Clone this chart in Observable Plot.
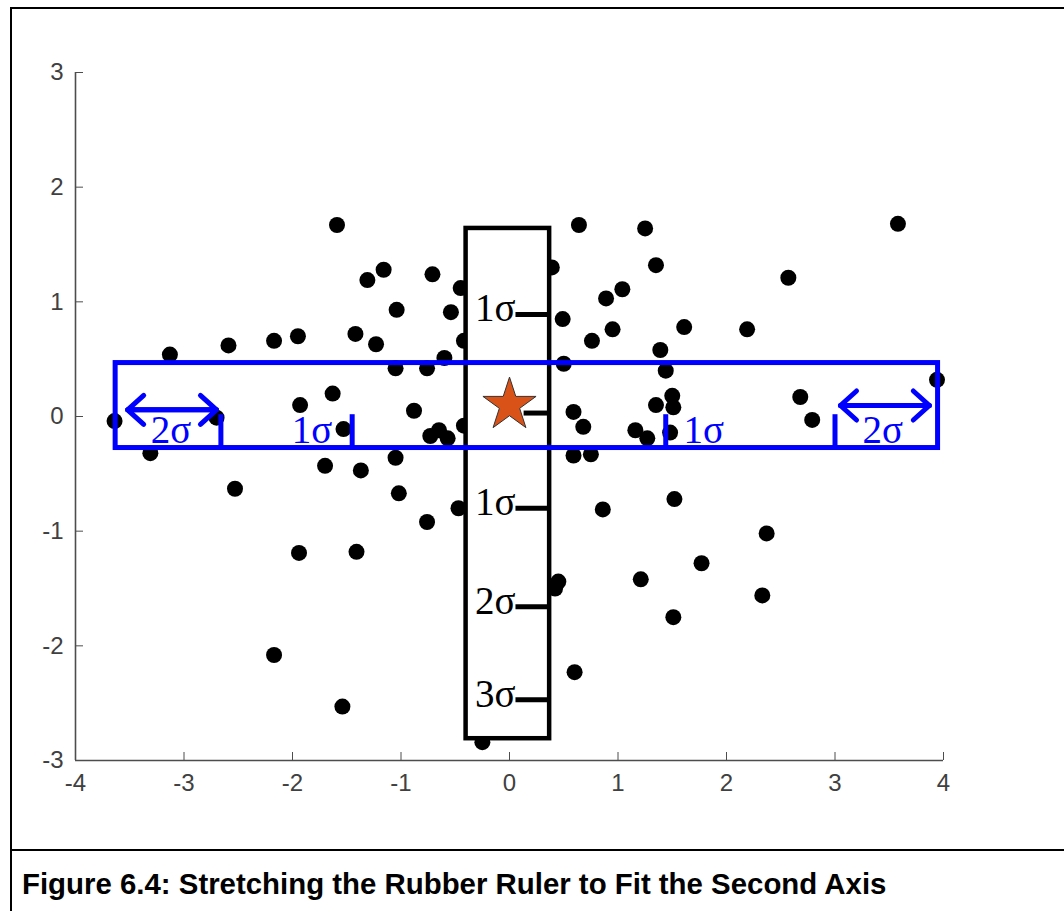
<!DOCTYPE html>
<html><head><meta charset="utf-8">
<script src="https://cdn.jsdelivr.net/npm/d3@7"></script>
<script src="https://cdn.jsdelivr.net/npm/@observablehq/plot@0.6"></script>
<style>
html,body{margin:0;padding:0;background:#fff;width:1064px;height:911px;overflow:hidden;}
#frame{position:absolute;left:10px;top:7px;width:1100px;height:1000px;border:2px solid #000;box-sizing:border-box;}
#sep{position:absolute;left:10px;top:849px;width:1100px;height:2px;background:#000;}
#chart{position:absolute;left:0;top:0;}
#caption{position:absolute;left:22px;top:869px;font:bold 29.4px "Liberation Sans",Arial,sans-serif;line-height:29px;white-space:nowrap;color:#000;}
</style></head><body>
<div id="frame"></div><div id="sep"></div><div id="chart"></div>
<div id="caption">Figure 6.4: Stretching the Rubber Ruler to Fit the Second Axis</div>
<script>
// axis ticks
const xTicks = [-4, -3, -2, -1, 0, 1, 2, 3, 4];
const yTicks = [-3, -2, -1, 0, 1, 2, 3];

// scatter points
const pointX = [-1.59, 0.64, 3.58, 1.25, 1.35, 0.39, -1.16, -0.71, -1.31, 2.57,
  -0.45, 1.04, 0.89, -1.04, -0.54, 0.49, 1.61, 0.95, 2.19, -1.42,
  -1.95, -2.17, 0.76, -0.42, -1.23, -2.59, 1.39, -3.13, -0.60, 0.50,
  -1.05, -0.76, 1.44, 3.94, -1.63, 1.50, 2.68, -1.93, 1.35, 1.51,
  -0.88, 0.59, -3.64, -2.70, 2.79, -0.42, 0.68, -1.53, -0.73, -0.65,
  -0.57, 1.16, 1.27, 1.48, -3.31, 0.59, 0.75, -1.05, -1.70, -1.37,
  -2.53, -1.02, 1.52, -0.47, 0.86, -0.76, 2.37, -1.94, -1.41, 1.77,
  1.21, 0.45, 0.42, 2.33, 1.51, -2.17, 0.60, -1.54, -0.25];
const pointY = [1.67, 1.67, 1.68, 1.64, 1.32, 1.30, 1.28, 1.24, 1.19, 1.21,
  1.12, 1.11, 1.03, 0.93, 0.91, 0.85, 0.78, 0.76, 0.76, 0.72,
  0.70, 0.66, 0.66, 0.66, 0.63, 0.62, 0.58, 0.54, 0.51, 0.46,
  0.42, 0.42, 0.40, 0.32, 0.20, 0.18, 0.17, 0.10, 0.10, 0.08,
  0.05, 0.04, -0.04, -0.01, -0.03, -0.08, -0.09, -0.11, -0.17, -0.12,
  -0.19, -0.12, -0.19, -0.14, -0.32, -0.34, -0.33, -0.36, -0.43, -0.47,
  -0.63, -0.67, -0.72, -0.80, -0.81, -0.92, -1.02, -1.19, -1.18, -1.28,
  -1.42, -1.44, -1.50, -1.56, -1.75, -2.08, -2.23, -2.53, -2.84];

// center (star)
const centerX = [0.0];
const centerY = [0.1];

// vertical (black) rubber ruler
const rulerX = [-0.40, 0.37];
const rulerY = [-2.81, 1.64];
const rulerTickY = [0.03, 0.89, -0.80, -1.66, -2.47];
const rulerTickStart = [0.13, 0.055, 0.055, 0.055, 0.055];
const rulerLabels = ["", "1σ", "1σ", "2σ", "3σ"];

// horizontal (blue) rubber ruler
const bandX = [-3.63, 3.95];
const bandY = [-0.275, 0.466];
const bandTickX = [-2.66, -1.45, 1.44, 3.0];
const bandTickTop = 0.02;
const bandLabelX = [-3.12, -1.82, 1.79, 3.44];
const bandLabelY = -0.235;
const bandLabels = ["2σ", "1σ", "1σ", "2σ"];
const arrowX1 = [-3.52, 3.05];
const arrowX2 = [-2.70, 3.87];
const arrowY = [0.058, 0.096];

const points = pointX.map((x, i) => ({x, y: pointY[i]}));
const center = centerX.map((x, i) => ({x, y: centerY[i]}));
const rulerTicks = rulerTickY.map((y, i) => ({y, start: rulerTickStart[i], label: rulerLabels[i]}));
const bandTicks = bandTickX.map(x => ({x}));
const bandText = bandLabelX.map((x, i) => ({x, label: bandLabels[i]}));
const arrowsFwd = arrowX1.map((x, i) => ({x1: x, x2: arrowX2[i], y: arrowY[i]}));
const arrowsBack = arrowX1.map((x, i) => ({x1: arrowX2[i], x2: x, y: arrowY[i]}));

const serif = '"Liberation Serif", "Times New Roman", serif';
const sans = '"Liberation Sans", Arial, sans-serif';
const blue = "#0000ff";
const axisColor = "#4d4d4d";
const labelColor = "#404040";

const chart = Plot.plot({
  width: 1064, height: 840,
  marginLeft: 75, marginRight: 121, marginTop: 72, marginBottom: 80,
  x: {domain: [-4, 4]},
  y: {domain: [-3, 3]},
  style: {fontFamily: sans, background: "transparent"},
  marks: [
    Plot.ruleX([-4], {stroke: axisColor, strokeWidth: 1.6}),
    Plot.ruleY([-3], {stroke: axisColor, strokeWidth: 1.6}),
    Plot.axisX({ticks: xTicks, anchor: "bottom", tickSize: -8, label: null, tickFormat: () => "", stroke: axisColor}),
    Plot.axisY({ticks: yTicks, anchor: "left", tickSize: -8, label: null, tickFormat: () => "", stroke: axisColor}),
    Plot.text(xTicks, {x: d => d, frameAnchor: "bottom", lineAnchor: "top", dy: 13, text: d => String(d), fontSize: 24, fontFamily: sans, fill: labelColor}),
    Plot.text(yTicks, {y: d => d, frameAnchor: "left", textAnchor: "end", dx: -12, text: d => String(d), fontSize: 24, fontFamily: sans, fill: labelColor}),
    Plot.dot(points, {x: "x", y: "y", r: 8, fill: "black"}),
    // black ruler
    Plot.rect([{}], {x1: () => rulerX[0], x2: () => rulerX[1], y1: () => rulerY[0], y2: () => rulerY[1], fill: "white", stroke: "black", strokeWidth: 4.5}),
    Plot.link(rulerTicks, {x1: "start", x2: () => rulerX[1], y1: "y", y2: "y", stroke: "black", strokeWidth: 5}),
    Plot.text(rulerTicks.filter(d => d.label), {x: "start", y: "y", text: "label", textAnchor: "end", lineAnchor: "bottom", dy: 7, dx: 0, fontSize: 39, fontFamily: serif, fill: "black"}),
    // blue ruler
    Plot.rect([{}], {x1: () => bandX[0], x2: () => bandX[1], y1: () => bandY[0], y2: () => bandY[1], fill: "none", stroke: blue, strokeWidth: 5}),
    Plot.link(bandTicks, {x1: "x", x2: "x", y1: () => bandTickTop, y2: () => bandY[0], stroke: blue, strokeWidth: 5}),
    Plot.text(bandText, {x: "x", y: () => bandLabelY, text: "label", lineAnchor: "bottom", fontSize: 39, fontFamily: serif, fill: blue}),
    Plot.arrow(arrowsFwd, {x1: "x1", x2: "x2", y1: "y", y2: "y", stroke: blue, strokeWidth: 5, headLength: 6.5, headAngle: 84}),
    Plot.arrow(arrowsBack, {x1: "x1", x2: "x2", y1: "y", y2: "y", stroke: blue, strokeWidth: 5, headLength: 6.5, headAngle: 84}),
    // star
    Plot.dot(center, {x: "x", y: "y", symbol: "star", r: 16.7, fill: "#d95319", stroke: "#333", strokeWidth: 1})
  ]
});
document.getElementById("chart").appendChild(chart);
</script>
</body></html>
